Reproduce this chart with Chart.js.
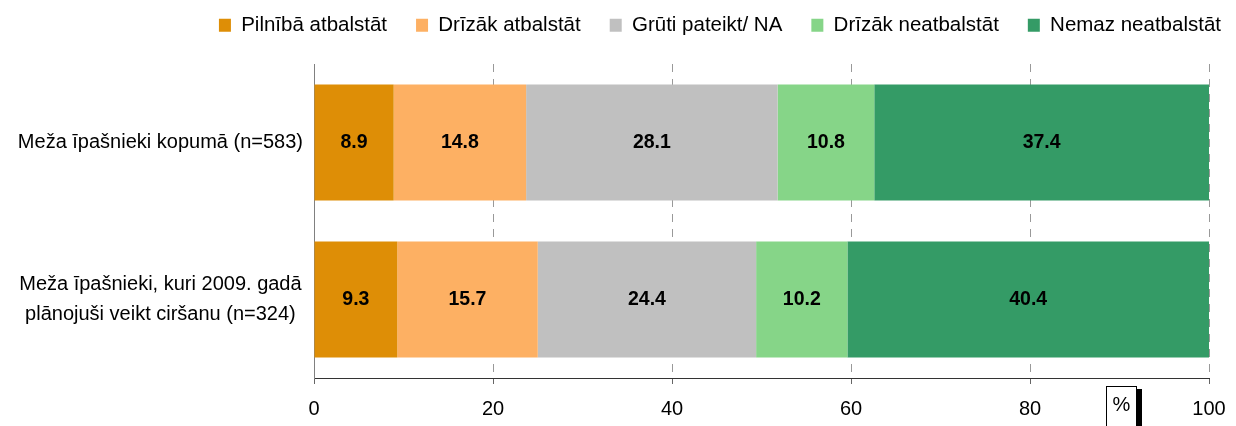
<!DOCTYPE html>
<html>
<head>
<meta charset="utf-8">
<script src="https://cdn.jsdelivr.net/npm/chart.js@4.4.1/dist/chart.umd.min.js"></script>
<style>
  html, body { margin: 0; padding: 0; background: #ffffff; }
  #wrap { width: 1236px; height: 426px; position: relative; }
</style>
</head>
<body>
<div id="wrap"><canvas id="c" width="1236" height="426"></canvas></div>
<script>
const categories = [
  "Meža īpašnieki kopumā (n=583)",
  ["Meža īpašnieki, kuri 2009. gadā", "plānojuši veikt ciršanu (n=324)"]
];
const seriesNames = ["Pilnībā atbalstāt", "Drīzāk atbalstāt", "Grūti pateikt/ NA", "Drīzāk neatbalstāt", "Nemaz neatbalstāt"];
const pilniba = [8.9, 9.3];
const drizakAtb = [14.8, 15.7];
const gruti = [28.1, 24.4];
const drizakNeatb = [10.8, 10.2];
const nemaz = [37.4, 40.4];
const xTicks = [0, 20, 40, 60, 80, 100];
const colors = ["#DE8E06", "#FDB063", "#C0C0C0", "#86D588", "#349B66"];
const unitLabel = "%";

const FONT = "'Liberation Sans', Arial, sans-serif";
const seriesValues = [pilniba, drizakAtb, gruti, drizakNeatb, nemaz];

const valueLabels = {
  id: 'valueLabels',
  afterDatasetsDraw(chart) {
    const ctx = chart.ctx;
    ctx.save();
    ctx.font = "bold 19.5px " + FONT;
    ctx.fillStyle = "#000";
    ctx.textAlign = "center";
    ctx.textBaseline = "middle";
    chart.data.datasets.forEach((ds, i) => {
      const meta = chart.getDatasetMeta(i);
      meta.data.forEach((bar, j) => {
        const v = ds.data[j];
        const cx = (bar.x + bar.base) / 2;
        ctx.fillText(v.toFixed(1), cx, bar.y);
      });
    });
    ctx.restore();
  }
};

const unitBox = {
  id: 'unitBox',
  afterDraw(chart) {
    const ctx = chart.ctx;
    const xs = chart.scales.x;
    const cx = xs.getPixelForValue(90.2);
    const top = 386;
    const w = 30, h = 42;
    const left = Math.round(cx - w / 2);
    ctx.save();
    ctx.fillStyle = "#000";
    ctx.fillRect(left + w, top + 3, 6, h);
    ctx.fillStyle = "#fff";
    ctx.fillRect(left, top, w, h);
    ctx.strokeStyle = "#000";
    ctx.lineWidth = 1;
    ctx.strokeRect(left + 0.5, top + 0.5, w, h);
    ctx.fillStyle = "#000";
    ctx.font = "20px " + FONT;
    ctx.textAlign = "center";
    ctx.textBaseline = "middle";
    ctx.fillText(unitLabel, left + w / 2 + 0.5, top + 19);
    ctx.restore();
  }
};

const legendFit = {
  id: 'legendFit',
  beforeInit(chart) {
    const orig = chart.legend.fit;
    chart.legend.fit = function () {
      orig.call(this);
      this.height = 78;
    };
  },
  afterLayout(chart) {
    chart.legend.right = 1250;
  }
};

new Chart(document.getElementById('c'), {
  type: 'bar',
  data: {
    labels: categories,
    datasets: seriesNames.map((name, i) => ({
      label: name,
      data: seriesValues[i],
      backgroundColor: colors[i],
      borderWidth: 0,
      barPercentage: 0.74,
      categoryPercentage: 1.0
    }))
  },
  options: {
    indexAxis: 'y',
    responsive: false,
    animation: false,
    devicePixelRatio: 1,
    layout: { padding: { top: -14, right: 27, bottom: 0, left: 0 } },
    plugins: {
      legend: {
        position: 'top',
        align: 'end',
        labels: {
          boxWidth: 12,
          boxHeight: 13,
          padding: 29,
          color: '#000',
          font: { family: FONT, size: 20.5 }
        }
      },
      tooltip: { enabled: false }
    },
    scales: {
      x: {
        stacked: true,
        min: 0, max: 100,
        afterBuildTicks(scale) { scale.ticks = xTicks.map(v => ({ value: v })); },
        afterFit(scale) { scale.height = 48; scale.paddingRight = 0; scale.paddingLeft = 0; },
        grid: {
          color: '#999',
          lineWidth: 1,
          drawTicks: true,
          tickLength: 6,
          tickColor: '#666',
          tickBorderDash: []
        },
        border: { display: true, color: '#333', width: 1, dash: [8, 7] },
        ticks: { color: '#000', font: { family: FONT, size: 20 }, padding: 13, maxRotation: 0 }
      },
      y: {
        stacked: true,
        grid: { display: false, drawTicks: false },
        border: { display: true, color: '#808080', width: 1 },
        afterFit(scale) { scale.width = 314; },
        ticks: {
          color: '#000',
          crossAlign: 'center',
          padding: 11,
          font: { family: FONT, size: 20, lineHeight: 1.5 }
        }
      }
    }
  },
  plugins: [valueLabels, unitBox, legendFit]
});
</script>
</body>
</html>
